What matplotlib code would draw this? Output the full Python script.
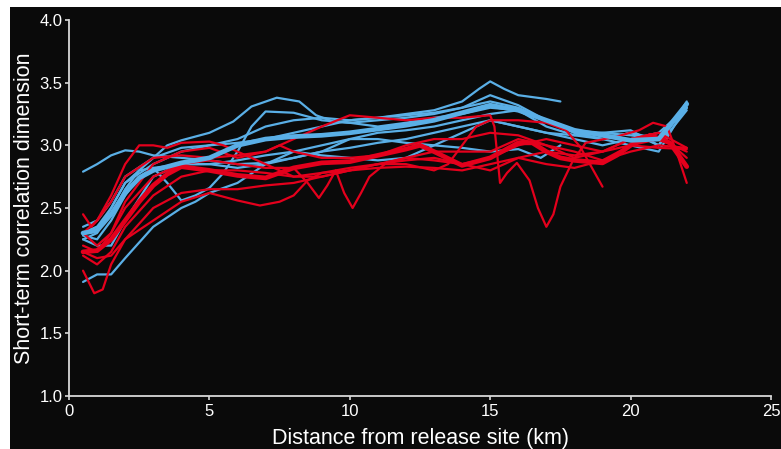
import matplotlib
matplotlib.use("Agg")
import matplotlib.pyplot as plt
from matplotlib.patches import Rectangle

plt.rcParams['font.family'] = ['Liberation Sans', 'DejaVu Sans']

# ---- data: blue (thin) trajectories ----
b1_x = [0.5, 1, 1.5, 2, 2.5, 3, 4, 5, 6, 7, 8, 9, 10, 11, 12, 13, 14, 15, 16, 17, 18, 19, 20, 21, 22]
b1_y = [2.79, 2.85, 2.92, 2.96, 2.95, 2.92, 2.9, 2.88, 2.85, 2.86, 2.9, 2.95, 2.98, 3.02, 3.05, 3.1, 3.15, 3.2, 3.15, 3.1, 3.08, 3.05, 3.1, 3.05, 3.3]
b2_x = [0.5, 1, 1.5, 2, 2.5, 3, 3.5, 4, 5, 5.85, 6.5, 7.4, 8.2, 8.8, 9.4, 10, 11, 12, 13, 14, 15, 16, 17, 18, 19, 20, 21, 22]
b2_y = [2.3, 2.35, 2.45, 2.65, 2.8, 2.9, 3.0, 3.04, 3.1, 3.19, 3.31, 3.38, 3.35, 3.24, 3.19, 3.18, 3.2, 3.22, 3.25, 3.3, 3.4, 3.32, 3.2, 3.1, 3.05, 3.1, 3.0, 3.35]
b3_x = [0.5, 1, 2, 3, 4, 5, 6, 7, 8, 9, 10, 11, 12, 13, 14, 14.6, 15, 15.5, 16, 17, 17.5]
b3_y = [2.25, 2.3, 2.7, 2.85, 2.95, 3.0, 3.05, 3.15, 3.2, 3.22, 3.2, 3.22, 3.25, 3.28, 3.35, 3.45, 3.51, 3.45, 3.4, 3.37, 3.35]
b4_x = [0.5, 1, 1.5, 2, 3, 4, 4.5, 5, 6, 7, 8, 9, 10, 11, 12, 13, 14, 15, 16, 16.8, 17.5]
b4_y = [1.91, 1.97, 1.97, 2.1, 2.35, 2.5, 2.55, 2.62, 2.7, 2.85, 2.95, 3.0, 3.05, 3.05, 3.02, 3.0, 2.98, 2.95, 2.97, 2.9, 3.0]
b5_x = [0.5, 1, 1.5, 2, 2.5, 3, 3.5, 4, 4.5, 5, 5.5, 6, 6.5, 7, 8, 9, 10, 11, 12, 13, 14, 15, 16, 17, 18, 19, 20, 21, 22]
b5_y = [2.3, 2.35, 2.5, 2.7, 2.8, 2.82, 2.7, 2.56, 2.6, 2.66, 2.78, 2.95, 3.15, 3.27, 3.26, 3.2, 3.18, 3.15, 3.18, 3.22, 3.25, 3.3, 3.28, 3.2, 3.12, 3.1, 3.08, 3.05, 3.3]
b6_x = [0.5, 1, 1.5, 2, 2.5, 3, 4, 5, 6, 7, 8, 9, 10, 11, 12, 13, 14, 15, 16, 17, 18, 19, 20, 21, 22]
b6_y = [2.28, 2.25, 2.4, 2.6, 2.75, 2.82, 2.85, 2.85, 2.88, 2.92, 2.95, 2.92, 2.9, 2.88, 2.9, 3.0, 3.1, 3.2, 3.15, 3.1, 3.05, 3.0, 3.05, 3.1, 3.3]
b7_x = [0.5, 1, 1.5, 2, 3, 4, 5, 6, 7, 8, 9, 10, 11, 12, 13, 14, 15, 16, 17, 18, 19, 20, 21, 22]
b7_y = [2.35, 2.4, 2.55, 2.75, 2.9, 2.98, 3.0, 3.02, 3.05, 3.1, 3.15, 3.2, 3.22, 3.24, 3.26, 3.3, 3.35, 3.3, 3.2, 3.1, 3.05, 3.0, 2.95, 3.32]
b8_x = [0.5, 1, 1.5, 2, 3, 4, 5, 6, 7, 8, 9, 10, 11, 12, 13, 14, 15, 16, 17, 18, 19, 20, 21, 22]
b8_y = [2.25, 2.2, 2.2, 2.4, 2.75, 2.85, 2.85, 2.82, 2.85, 2.9, 2.95, 3.05, 3.1, 3.12, 3.15, 3.2, 3.25, 3.28, 3.15, 3.08, 3.1, 3.12, 3.0, 3.28]

# ---- blue mean (thick) ----
bm_x = [0.5, 1, 1.5, 2, 2.5, 3, 4, 5, 6, 7, 8, 9, 10, 11, 12, 13, 14, 15, 16, 17, 18, 19, 20, 21, 22]
bm_y = [2.3, 2.32, 2.45, 2.62, 2.74, 2.8, 2.86, 2.9, 3.0, 3.05, 3.07, 3.08, 3.1, 3.13, 3.16, 3.2, 3.26, 3.32, 3.28, 3.2, 3.12, 3.08, 3.04, 3.05, 3.33]

# ---- data: red (thin) trajectories ----
r1_x = [0.5, 1, 1.5, 2, 3, 4, 5, 6, 7, 8, 9, 10, 11, 12, 13, 14, 15, 15.15, 15.35, 15.6, 15.95, 16.4, 16.7, 17.0, 17.25, 17.5, 17.95, 18.4, 19.5, 20.3, 20.8, 21.3, 21.65, 22.0]
r1_y = [2.2, 2.15, 2.3, 2.55, 2.85, 2.95, 2.98, 2.9, 2.95, 3.05, 3.15, 3.24, 3.22, 3.2, 3.22, 3.22, 3.24, 3.15, 2.7, 2.78, 2.86, 2.72, 2.5, 2.35, 2.45, 2.67, 2.88, 3.02, 3.07, 3.12, 3.18, 3.15, 2.94, 2.70]
r2_x = [0.5, 1, 1.5, 2, 3, 4, 5, 6, 7, 8, 8.5, 8.9, 9.2, 9.5, 9.8, 10.1, 10.4, 10.7, 11.3, 12, 13, 14, 15, 16, 17, 18, 19, 20, 21, 22]
r2_y = [2.3, 2.2, 2.3, 2.5, 2.75, 2.85, 2.88, 2.85, 2.82, 2.82, 2.7, 2.58, 2.68, 2.8, 2.62, 2.5, 2.62, 2.75, 2.86, 2.9, 2.95, 2.95, 2.95, 3.05, 3.0, 2.95, 2.88, 3.0, 3.05, 2.95]
r3_x = [0.5, 1, 1.5, 2, 3, 4, 5, 6, 7, 8, 9, 10, 11, 12, 13, 13.5, 14, 14.5, 15, 16, 17, 17.7, 18.2, 19]
r3_y = [2.12, 2.05, 2.15, 2.35, 2.6, 2.75, 2.8, 2.8, 2.78, 2.75, 2.78, 2.82, 2.85, 2.85, 2.8, 2.85, 3.0, 3.15, 3.2, 3.2, 3.18, 3.12, 2.99, 2.67]
r4_x = [0.5, 0.9, 1.2, 1.5, 2, 3, 4, 5, 6, 7, 8, 9, 10, 11, 12, 13, 14, 15, 16, 17, 18, 19, 20, 21, 22]
r4_y = [2.0, 1.82, 1.85, 2.05, 2.25, 2.5, 2.62, 2.65, 2.65, 2.68, 2.7, 2.75, 2.8, 2.85, 2.88, 2.9, 2.85, 2.8, 2.9, 2.95, 2.92, 2.95, 3.0, 2.98, 2.97]
r5_x = [0.5, 1, 1.5, 2, 3, 4, 5, 6, 6.8, 7.5, 8, 8.5, 9, 10, 11, 12, 13, 14, 15, 16, 17, 18, 19, 20, 21, 22]
r5_y = [2.15, 2.1, 2.12, 2.25, 2.4, 2.55, 2.62, 2.56, 2.52, 2.55, 2.6, 2.72, 2.78, 2.8, 2.82, 2.83, 2.82, 2.8, 2.85, 2.9, 2.85, 2.82, 2.88, 2.95, 3.0, 2.98]
r6_x = [0.5, 0.8, 1, 1.5, 2, 2.5, 3, 3.5, 4, 5, 5.5, 6, 7, 8, 9, 10, 11, 12, 13, 14, 15, 16, 17, 18, 19, 20, 21, 22]
r6_y = [2.45, 2.35, 2.4, 2.6, 2.85, 3.0, 3.0, 2.98, 3.02, 3.03, 3.0, 2.95, 2.85, 2.75, 2.75, 2.8, 2.85, 2.9, 2.88, 2.85, 2.9, 3.0, 3.05, 3.0, 2.95, 3.05, 3.1, 2.9]
r7_x = [0.5, 1, 1.5, 2, 3, 4, 5, 6, 7, 7.5, 8, 9, 10, 11, 12, 13, 14, 15, 16, 17, 18, 19, 20, 21, 22]
r7_y = [2.3, 2.4, 2.55, 2.75, 2.9, 2.92, 2.9, 2.92, 2.95, 3.0, 2.95, 2.9, 2.9, 2.92, 3.0, 3.05, 3.05, 3.1, 3.08, 3.0, 2.9, 2.95, 3.05, 3.1, 2.98]

# ---- red mean (thick) ----
rm_x = [0.5, 1, 1.5, 2, 2.5, 3, 3.5, 4, 5, 6, 7, 8, 9, 10, 11, 12, 12.5, 13, 14, 15, 16, 16.5, 17, 17.5, 18, 19, 19.5, 20, 20.7, 21.4, 22]
rm_y = [2.15, 2.16, 2.25, 2.4, 2.55, 2.68, 2.77, 2.83, 2.8, 2.76, 2.74, 2.82, 2.86, 2.87, 2.92, 2.97, 3.0, 2.95, 2.84, 2.9, 3.02, 3.02, 2.95, 2.9, 2.88, 2.86, 2.92, 3.0, 3.08, 3.02, 2.83]

blue_thin = [(b1_x, b1_y), (b2_x, b2_y), (b3_x, b3_y), (b4_x, b4_y), (b5_x, b5_y),
             (b6_x, b6_y), (b7_x, b7_y), (b8_x, b8_y)]
red_thin = [(r1_x, r1_y), (r2_x, r2_y), (r3_x, r3_y), (r4_x, r4_y), (r5_x, r5_y),
            (r6_x, r6_y), (r7_x, r7_y)]

x_ticks = [0, 5, 10, 15, 20, 25]
y_ticks = [1.0, 1.5, 2.0, 2.5, 3.0, 3.5, 4.0]

BLUE = '#5aafe6'
RED = '#e4001c'
BG = '#0a0a0a'
AX = '#d8d8d8'

W, H = 781, 449
fig = plt.figure(figsize=(W / 100, H / 100), dpi=100, facecolor='white')
fig.patches.append(Rectangle((10 / W, 0), 1 - 10 / W, 1 - 7 / H, transform=fig.transFigure,
                             facecolor=BG, edgecolor='none', zorder=-10))

ax = fig.add_axes([69 / W, 1 - 396 / H, (771 - 69) / W, (396 - 20) / H])
ax.set_facecolor('none')
ax.set_zorder(5)

for xs, ys in blue_thin:
    ax.plot(xs, ys, color=BLUE, lw=1.6, solid_joinstyle='round', solid_capstyle='round', zorder=2)
for xs, ys in red_thin:
    ax.plot(xs, ys, color=RED, lw=1.6, solid_joinstyle='round', solid_capstyle='round', zorder=3)
ax.plot(rm_x, rm_y, color=RED, lw=3.4, solid_joinstyle='round', solid_capstyle='round', zorder=4)
ax.plot(bm_x, bm_y, color=BLUE, lw=3.4, solid_joinstyle='round', solid_capstyle='round', zorder=5)

ax.set_xlim(0, 25)
ax.set_ylim(1, 4)
ax.set_xticks(x_ticks)
ax.set_xticklabels([str(t) for t in x_ticks])
ax.set_yticks(y_ticks)
ax.set_yticklabels([f'{t:.1f}' for t in y_ticks])

for s in ['top', 'right']:
    ax.spines[s].set_visible(False)
for s in ['left', 'bottom']:
    ax.spines[s].set_color(AX)
    ax.spines[s].set_linewidth(1.3)
ax.tick_params(colors=AX, labelcolor='white', labelsize=12, length=3, width=1.2, pad=1.5)
ax.tick_params(axis='x', pad=3)

ax.set_xlabel('Distance from release site (km)', color='white', fontsize=15.5, labelpad=6)
ax.set_ylabel('Short-term correlation dimension', color='white', fontsize=15.5, labelpad=3)

fig.savefig('out.png', dpi=100, facecolor=fig.get_facecolor())
